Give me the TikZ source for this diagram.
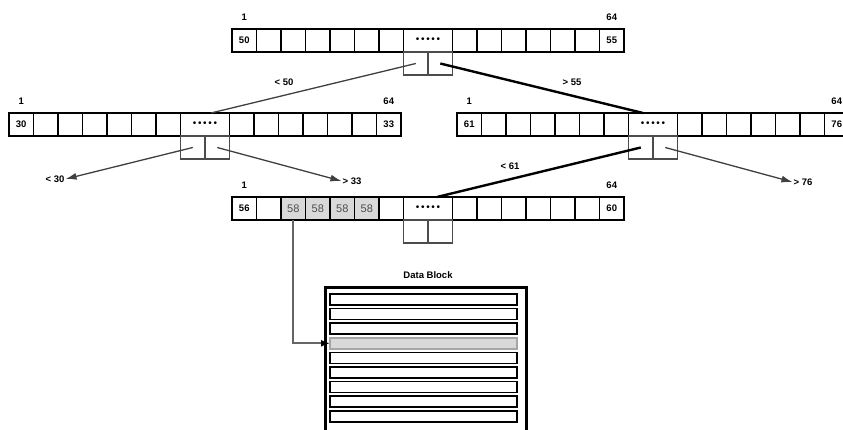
\documentclass[tikz,border=0pt]{standalone}
\usepackage{fontspec}
\setmainfont{Liberation Sans}
\usetikzlibrary{arrows.meta,calc}
\tikzset{
  cell/.style={draw=black, line width=1.5pt, minimum width=24.5pt, minimum height=23pt,
    inner sep=0pt, outer sep=0pt, anchor=north west},
  ptrcell/.style={draw=black!70, line width=1.7pt, minimum width=24.5pt, minimum height=23pt,
    inner sep=0pt, outer sep=0pt, anchor=north west},
  celltext/.style={font=\fontsize{9.5}{10}\selectfont\bfseries, inner sep=0pt},
  keytext/.style={font=\fontsize{11}{11}\selectfont, text=black!70, inner sep=0pt},
  idxlabel/.style={font=\fontsize{9.5}{10}\selectfont\bfseries, inner sep=0pt},
  brlabel/.style={font=\fontsize{9.5}{10}\selectfont\bfseries, inner sep=1pt},
  thinlink/.style={draw=black!75, line width=1.3pt},
  thicklink/.style={draw=black, line width=2.4pt},
  tip/.style={-{Latex[length=11pt,width=7pt]}},
  cellx/b2/.style={fill=black!15},
  cellx/b3/.style={fill=black!15},
  cellx/b4/.style={fill=black!15},
  cellx/b5/.style={fill=black!15},
  datarow/.style={draw=black, line width=1.6pt, minimum width=187pt, minimum height=11pt,
    inner sep=0pt, outer sep=0pt, anchor=north west},
}
\newcommand{\bnode}[5]{%
  \foreach \i in {0,...,6} {\node[cell, cellx/#1\i/.try] (#1c\i) at ({#2+\i*24.5},#3) {};}
  \node[cell, minimum width=49pt, font=\fontsize{10}{10}\selectfont] (#1d) at ({#2+7*24.5},#3) {•\,•\,•\,•\,•};
  \foreach \i in {9,...,15} {\node[cell] (#1c\i) at ({#2+\i*24.5},#3) {};}
  \node[ptrcell] (#1pl) at ({#2+7*24.5},{#3+23}) {};
  \node[ptrcell] (#1pr) at ({#2+8*24.5},{#3+23}) {};
  \node[celltext] (#1first) at (#1c0.center) {#4};
  \node[celltext] (#1last) at (#1c15.center) {#5};
  \node[idxlabel] (#1one) at ($(#1c0.north)+(0,-12)$) {1};
  \node[idxlabel] (#1sixtyfour) at ($(#1c15.north)+(0,-12)$) {64};
}
\begin{document}
\begin{tikzpicture}[x=1pt,y=-1pt]
\useasboundingbox (0,0) rectangle (843,429);
\fill[white] (0,0) rectangle (843,429);

\bnode{t}{232}{29}{50}{55}
\bnode{l}{9}{113}{30}{33}
\bnode{r}{457}{113}{61}{76}
\bnode{b}{232}{197}{56}{60}

\foreach \i in {2,...,5} {\node[keytext] (bk\i) at (bc\i.center) {58};}

% branch labels
\node[brlabel] (lt50) at (284,82) {< 50};
\node[brlabel] (gt55) at (572,82) {> 55};
\node[brlabel] (lt30) at (55,179) {< 30};
\node[brlabel] (gt33) at (352,181) {> 33};
\node[brlabel] (lt61) at (510,166) {< 61};
\node[brlabel] (gt76) at (803,182) {> 76};

% connectors
\draw[thinlink] (tpl.center) -- ([xshift=6pt]ld.north);
\draw[thicklink] (tpr.center) -- ([xshift=-10pt]rd.north);
\draw[thinlink, tip] (lpl.center) -- (lt30.east);
\draw[thinlink, tip] (lpr.center) -- (gt33.west);
\draw[thicklink] (rpl.center) -- ([xshift=9pt]bd.north);
\draw[thinlink, tip] (rpr.center) -- (gt76.west);

% data block
\node[font=\fontsize{9.5}{10}\selectfont\bfseries] (dbt) at (428,275) {Data Block};
\node[draw=black, line width=2.6pt, minimum width=201pt, minimum height=150pt,
  inner sep=0pt, anchor=north west] (db) at (324,286) {};
\foreach \k in {0,...,8} {\node[datarow] (dr\k) at (330,{294+\k*14.6}) {};}
\node[datarow, fill=black!15, draw=black!35] (dr3) at (330,{294+3*14.6}) {};
\draw[draw=black!60, line width=2pt, -{Latex[length=9pt,width=7pt,black]}]
  (bc2.south) |- (dr3.west);
\end{tikzpicture}
\end{document}
